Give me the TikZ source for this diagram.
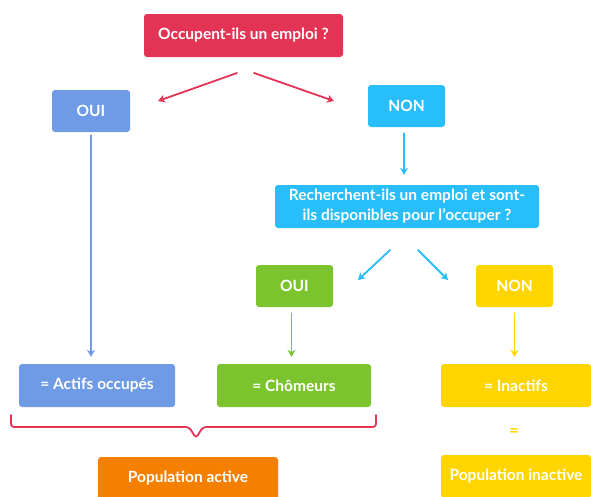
\documentclass[tikz,border=0pt]{standalone}
\usepackage{fontspec}
\setmainfont{Lato}
\usetikzlibrary{arrows.meta}
\definecolor{rouge}{RGB}{227,52,86}
\definecolor{bleu}{RGB}{111,155,230}
\definecolor{cyan}{RGB}{40,190,252}
\definecolor{vert}{RGB}{124,196,46}
\definecolor{jaune}{RGB}{255,213,0}
\definecolor{orange}{RGB}{245,128,0}
\tikzset{
	boite/.style={rounded corners=3pt,text=white,minimum height=43pt,inner sep=0pt,font=\fontsize{15.5}{18}\selectfont\bfseries},
	fleche/.style={-{Stealth[length=7pt,width=8pt]},line width=1.8pt}
}
\begin{document}
\begin{tikzpicture}[x=1pt,y=-1pt,line join=round,line cap=round]
				\useasboundingbox (0,0) rectangle (591,496);
				\node[boite,fill=rouge,minimum width=199pt] (q1) at (243.5,35.5) {Occupent-ils un emploi ?};
				\node[boite,fill=bleu,minimum width=78pt,minimum height=42pt] (oui1) at (91,111) {OUI};
				\node[boite,fill=cyan,minimum width=77pt,minimum height=42pt] (non1) at (406.5,106) {NON};
				\node[boite,fill=cyan,minimum width=264pt,align=center,font=\fontsize{15.5}{20}\selectfont\bfseries] (q2) at (407,206.5) {Recherchent-ils un emploi et sont-\\ils disponibles pour l’occuper ?};
				\node[boite,fill=vert,minimum width=77pt,minimum height=42pt] (oui2) at (294.5,286) {OUI};
				\node[boite,fill=jaune,minimum width=77pt,minimum height=42pt] (non2) at (514.5,286) {NON};
				\node[boite,fill=bleu,minimum width=156pt] (actifs) at (97,385.5) {= Actifs occupés};
				\node[boite,fill=vert,minimum width=154pt] (chomeurs) at (294,385.5) {= Chômeurs};
				\node[boite,fill=jaune,minimum width=150pt] (inactifs) at (516,385.5) {= Inactifs};
				\node[boite,fill=orange,minimum width=180pt] (popact) at (188,478.5) {Population active};
				\node[boite,fill=jaune,minimum width=150pt] (popinact) at (516,476.5) {Population inactive};
				\node[text=jaune,font=\fontsize{17}{18}\selectfont\bfseries] (egal) at (514,432) {=};
				% fleches
				\coordinate (r1) at (237,73);
				\coordinate (r2) at (254,73);
				\coordinate (c1) at (390,250);
				\coordinate (c2) at (418,250);
				\draw[fleche,rouge] (r1) -- (158,101);
				\draw[fleche,rouge] (r2) -- (334,101);
				\draw[fleche,cyan] ([xshift=-2.5pt,yshift=-6pt]non1.south) -- ([xshift=-2.5pt,yshift=10pt]non1.south |- q2.north);
				\draw[fleche,cyan] (c1) -- (358,280);
				\draw[fleche,cyan] (c2) -- (448,280);
				\draw[fleche,bleu,line width=1.5pt] ([yshift=-3pt]oui1.south) -- ([yshift=7pt]oui1.south |- actifs.north);
				\draw[fleche,vert] ([xshift=-3pt,yshift=-6pt]oui2.south) -- ([xshift=-3pt,yshift=7pt]oui2.south |- chomeurs.north);
				\draw[fleche,jaune] ([yshift=-6pt]non2.south) -- ([yshift=7pt]non2.south |- inactifs.north);
				% accolade
				\draw[rouge,line width=1.8pt,rounded corners=3pt] (11,415) -- (11,427) -- (189,427) -- (196,438) -- (203,427) -- (376,427) -- (376,415);
			\end{tikzpicture}
\end{document}
